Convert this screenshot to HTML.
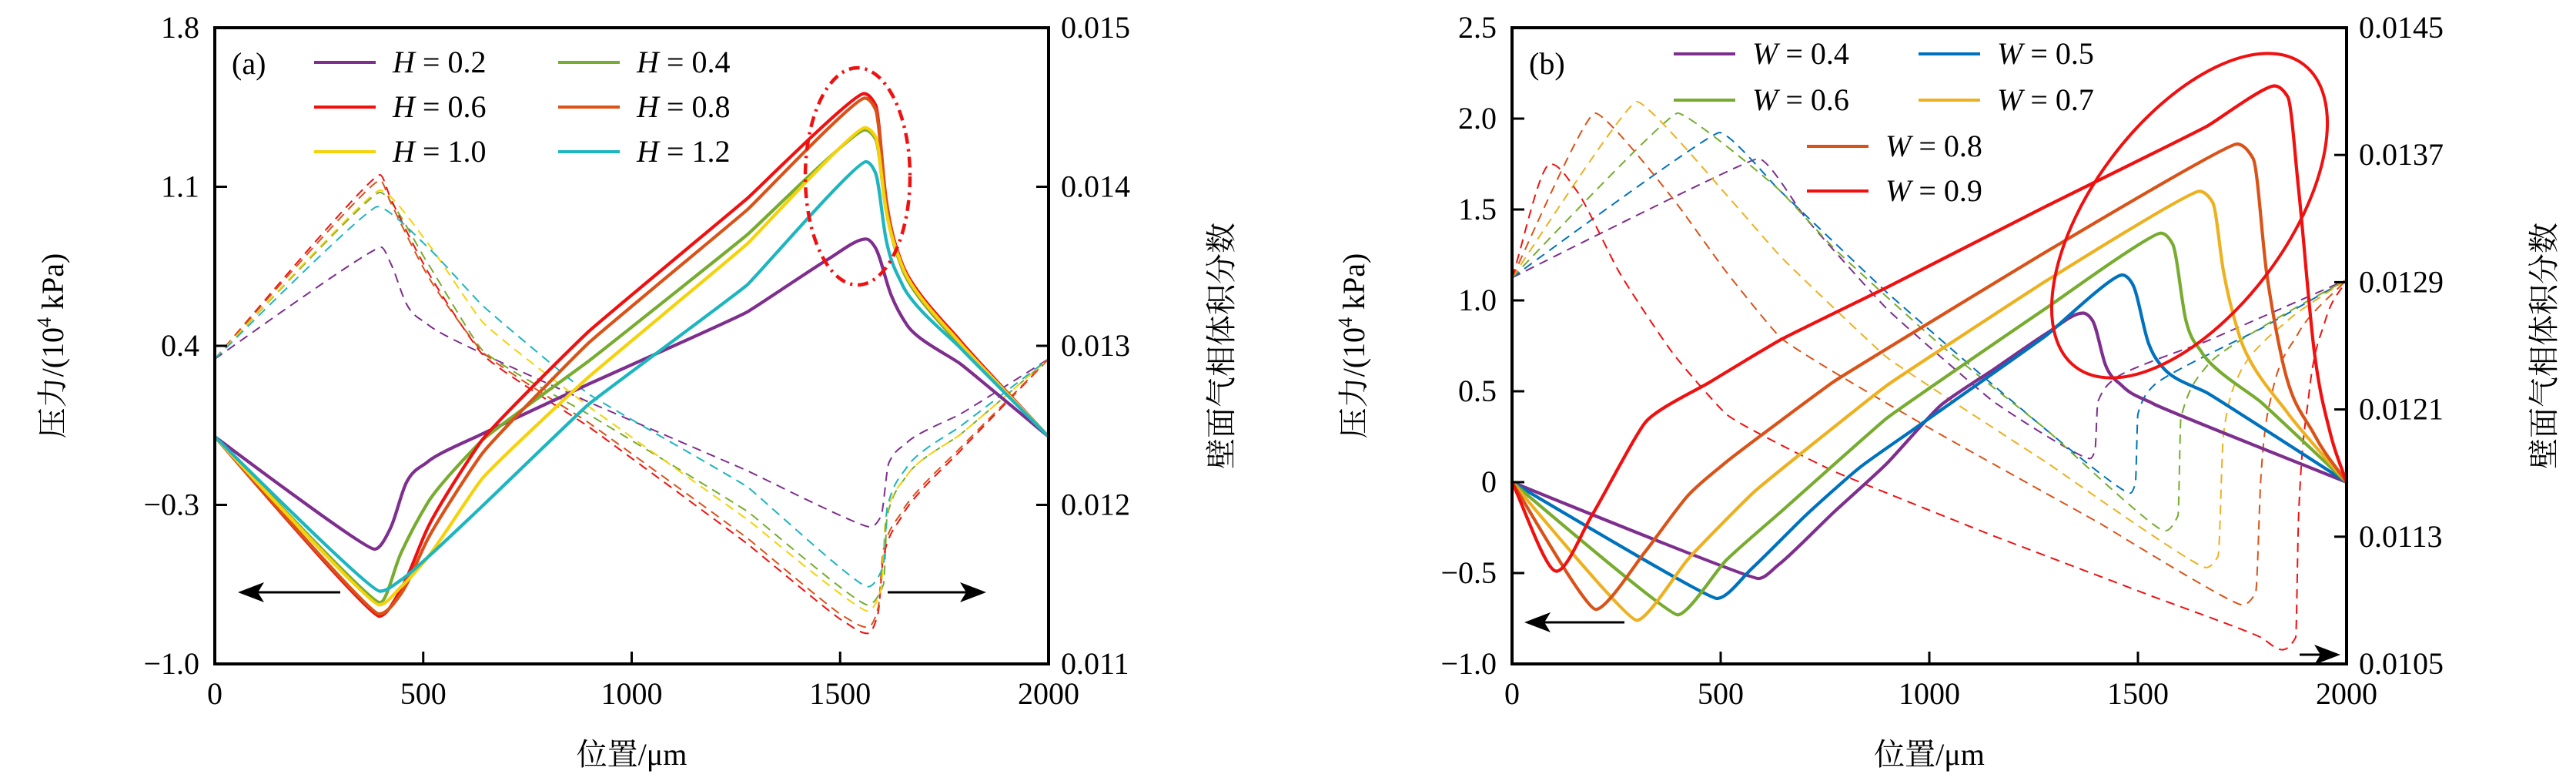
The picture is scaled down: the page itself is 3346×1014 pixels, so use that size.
<!DOCTYPE html>
<html><head><meta charset="utf-8"><style>
html,body{margin:0;padding:0;background:#fff;}
svg{display:block;}
text{font-family:"Liberation Serif","Noto Serif CJK SC",serif;}
</style></head><body>
<svg id="fig" width="3346" height="1014" viewBox="0 0 3346 1014" xmlns="http://www.w3.org/2000/svg"></svg>
<script>
// ---------- Panel (a) data ----------
const aXTicks=[0,500,1000,1500,2000];
const aYTicks=[-1.0,-0.3,0.4,1.1,1.8];
const aYTickLabels=["\u22121.0","\u22120.3","0.4","1.1","1.8"];
const aRTicks=[0.011,0.012,0.013,0.014,0.015];
const aRTickLabels=["0.011","0.012","0.013","0.014","0.015"];
const aNames=["H = 0.2","H = 0.4","H = 0.6","H = 0.8","H = 1.0","H = 1.2"];
const aColors=["#7E2F8E","#77AC30","#F01010","#D95319","#F5D20A","#1DB5C0"];
const aP02x=[0,383,422,460,511,639,895,1278,1470,1562,1585,1623,1661,1789,2000];
const aP02y=[0,-0.495,-0.40,-0.20,-0.11,0.01,0.23,0.55,0.78,0.87,0.83,0.62,0.49,0.32,0];
const aP04x=[0,396,447,511,639,895,1278,1559,1585,1610,1649,1789,2000];
const aP04y=[0,-0.73,-0.51,-0.29,-0.02,0.33,0.89,1.35,1.31,1.0,0.74,0.40,0];
const aP06x=[0,394,447,511,639,895,1278,1557,1585,1610,1649,1789,2000];
const aP06y=[0,-0.79,-0.67,-0.40,-0.02,0.46,1.05,1.51,1.46,1.05,0.76,0.42,0];
const aP08x=[0,394,447,511,639,895,1278,1559,1585,1610,1649,1789,2000];
const aP08y=[0,-0.78,-0.69,-0.45,-0.08,0.41,1.00,1.49,1.44,1.04,0.75,0.41,0];
const aP10x=[0,394,447,511,639,895,1278,1559,1585,1610,1649,1789,2000];
const aP10y=[0,-0.74,-0.66,-0.53,-0.19,0.26,0.85,1.36,1.32,1.0,0.75,0.41,0];
const aP12x=[0,396,447,511,639,895,1278,1562,1585,1610,1649,1789,2000];
const aP12y=[0,-0.68,-0.63,-0.53,-0.31,0.14,0.67,1.21,1.16,0.87,0.67,0.39,0];
const aV02x=[0,399,422,460,511,639,895,1278,1572,1598,1617,1661,1789,2000];
const aV02y=[0.012917,0.013620,0.013518,0.013262,0.013134,0.012955,0.012649,0.012214,0.011861,0.011930,0.012265,0.012393,0.012572,0.012917];
const aV04x=[0,396,511,639,895,1278,1566,1604,1613,1661,1789,2000];
const aV04y=[0.012917,0.013965,0.013518,0.012981,0.012572,0.011958,0.011371,0.011500,0.011933,0.012188,0.012444,0.012917];
const aV06x=[0,396,422,511,639,895,1278,1508,1566,1591,1604,1649,1789,2000];
const aV06y=[0.012917,0.014075,0.013926,0.013466,0.012955,0.012495,0.011754,0.011268,0.011192,0.011319,0.011677,0.011933,0.012342,0.012917];
const aV08x=[0,396,422,511,639,895,1278,1508,1566,1591,1604,1649,1789,2000];
const aV08y=[0.012917,0.014041,0.013900,0.013440,0.012970,0.012520,0.011790,0.011300,0.011230,0.011350,0.011720,0.011960,0.012360,0.012917];
const aV10x=[0,396,511,639,895,1278,1566,1598,1610,1661,1789,2000];
const aV10y=[0.012917,0.013978,0.013645,0.013160,0.012623,0.011907,0.011332,0.011470,0.011933,0.012188,0.012444,0.012917];
const aV12x=[0,390,511,639,895,1278,1566,1604,1613,1661,1789,2000];
const aV12y=[0.012917,0.013875,0.013620,0.013262,0.012700,0.012112,0.011485,0.011620,0.011984,0.012240,0.012495,0.012917];

// ---------- Panel (b) data ----------
const bXTicks=[0,500,1000,1500,2000];
const bYTicks=[-1.0,-0.5,0,0.5,1.0,1.5,2.0,2.5];
const bYTickLabels=["\u22121.0","\u22120.5","0","0.5","1.0","1.5","2.0","2.5"];
const bRTicks=[0.0105,0.0113,0.0121,0.0129,0.0137,0.0145];
const bRTickLabels=["0.0105","0.0113","0.0121","0.0129","0.0137","0.0145"];
const bNames=["W = 0.4","W = 0.5","W = 0.6","W = 0.7","W = 0.8","W = 0.9"];
const bColors=["#7E2F8E","#0072BD","#77AC30","#EDB120","#D95319","#F01010"];
const bP04x=[0,590,641,769,897,1026,1154,1282,1368,1391,1423,1462,1538,2000];
const bP04y=[0,-0.53,-0.45,-0.17,0.10,0.42,0.62,0.82,0.93,0.89,0.64,0.53,0.43,0];
const bP05x=[0,491,577,705,833,962,1282,1462,1487,1526,1564,1667,2000];
const bP05y=[0,-0.64,-0.47,-0.18,0.08,0.29,0.81,1.14,1.09,0.76,0.62,0.49,0];
const bP06x=[0,397,513,641,897,1282,1555,1583,1615,1654,1795,2000];
const bP06y=[0,-0.73,-0.43,-0.17,0.35,0.96,1.37,1.31,0.89,0.71,0.44,0];
const bP07x=[0,299,423,577,897,1282,1647,1679,1705,1744,1859,2000];
const bP07y=[0,-0.76,-0.42,-0.06,0.53,1.11,1.60,1.54,1.16,0.80,0.38,0];
const bP08x=[0,201,320,423,513,769,1282,1737,1776,1808,1846,1923,2000];
const bP08y=[0,-0.70,-0.38,-0.07,0.11,0.55,1.27,1.86,1.78,1.16,0.67,0.26,0];
const bP09x=[0,106,192,320,474,641,897,1282,1667,1827,1859,1885,1923,1962,2000];
const bP09y=[0,-0.49,-0.18,0.33,0.55,0.78,1.07,1.52,1.96,2.18,2.12,1.61,0.71,0.26,0];
const bV04x=[0,590,705,897,1154,1385,1397,1404,1449,1667,2000];
const bV04y=[0.012928,0.013677,0.013299,0.012736,0.012149,0.011791,0.011842,0.012149,0.012302,0.012532,0.012915];
const bV05x=[0,497,641,897,1154,1481,1494,1500,1538,1795,2000];
const bV05y=[0.012928,0.013841,0.013478,0.012839,0.012251,0.011573,0.011637,0.012072,0.012251,0.012609,0.012915];
const bV06x=[0,397,641,769,1026,1282,1564,1596,1603,1667,1859,2000];
const bV06y=[0.012928,0.013963,0.013478,0.013120,0.012507,0.011970,0.011336,0.011433,0.012047,0.012379,0.012711,0.012915];
const bV07x=[0,299,513,641,897,1282,1663,1692,1705,1744,1859,2000];
const bV07y=[0.012928,0.014035,0.013452,0.013069,0.012430,0.011765,0.011106,0.011178,0.011944,0.012328,0.012660,0.012915];
const bV08x=[0,199,385,513,641,1026,1410,1750,1782,1795,1821,1885,2000];
const bV08y=[0.012928,0.013963,0.013427,0.012967,0.012557,0.011944,0.011382,0.010871,0.010947,0.011689,0.012200,0.012583,0.012915];
const bV09x=[0,92,154,256,385,513,769,1154,1538,1795,1846,1878,1885,1910,1949,2000];
const bV09y=[0.012928,0.013644,0.013478,0.012967,0.012455,0.012072,0.011714,0.011305,0.010922,0.010666,0.010589,0.010666,0.011433,0.012200,0.012660,0.012915];

const NS="http://www.w3.org/2000/svg";
const svg=document.getElementById('fig');
function mk(tag,attrs,parent){const e=document.createElementNS(NS,tag);for(const k in attrs)e.setAttribute(k,attrs[k]);(parent||svg).appendChild(e);return e;}
// monotone cubic (x-increasing) path with short handles for sharp corners
function smoothPath(P){
  const n=P.length;
  const h=[],s=[];
  for(let i=0;i<n-1;i++){h[i]=P[i+1][0]-P[i][0];s[i]=(P[i+1][1]-P[i][1])/(h[i]||1e-6);}
  const m=[];
  m[0]=s[0];m[n-1]=s[n-2];
  for(let i=1;i<n-1;i++){
    const p=(s[i-1]*h[i]+s[i]*h[i-1])/(h[i-1]+h[i]);
    m[i]=(Math.sign(s[i-1])+Math.sign(s[i]))*Math.min(Math.abs(s[i-1]),Math.abs(s[i]),0.5*Math.abs(p));
  }
  let d='M'+P[0][0].toFixed(1)+','+P[0][1].toFixed(1);
  for(let i=0;i<n-1;i++){
    const dx=Math.min(h[i]/3,14);
    d+='C'+(P[i][0]+dx).toFixed(1)+','+(P[i][1]+m[i]*dx).toFixed(1)+' '+(P[i+1][0]-dx).toFixed(1)+','+(P[i+1][1]-m[i+1]*dx).toFixed(1)+' '+P[i+1][0].toFixed(1)+','+P[i+1][1].toFixed(1);
  }
  return d;
}

function panel(cfg){
  const g=mk('g',{});
  
  
  const L=cfg.L,R=cfg.R,T=cfg.T,B=cfg.B;
  const sx=v=>L+(v-0)/2000*(R-L);
  const sy=v=>B-(v-cfg.ymin)/(cfg.ymax-cfg.ymin)*(B-T);
  const sr=v=>B-(v-cfg.rmin)/(cfg.rmax-cfg.rmin)*(B-T);
  const pts=(xs,ys,f)=>xs.map((x,i)=>[sx(x),f(ys[i])]);
  cfg.dashed.forEach((s,i)=>{
    const p=mk('path',{d:smoothPath(pts(s[0],s[1],sr)),fill:'none',stroke:cfg.colors[i],'stroke-width':2,'stroke-dasharray':'12,8','stroke-linejoin':'round'},g);
    
    
  });
  cfg.solid.forEach((s,i)=>{
    const p=mk('path',{d:smoothPath(pts(s[0],s[1],sy)),fill:'none',stroke:cfg.colors[i],'stroke-width':4.2,'stroke-linejoin':'round','stroke-linecap':'round'},g);
    
    
  });
  const fr=mk('rect',{x:L,y:T,width:R-L,height:B-T,fill:'none',stroke:'#000','stroke-width':4},g);
  
  
  cfg.xt.forEach(v=>{
    const x=sx(v);
    const t=mk('line',{x1:x,y1:B,x2:x,y2:B-16,stroke:'#000','stroke-width':3},g);
    
    
    const l=mk('text',{x:x,y:B+52,'font-size':40,'text-anchor':'middle'},g);l.textContent=String(v);
    
    
  });
  cfg.yt.forEach((v,i)=>{
    const y=sy(v);
    const t=mk('line',{x1:L,y1:y,x2:L+16,y2:y,stroke:'#000','stroke-width':3},g);
    
    
    const l=mk('text',{x:L-20,y:y+13,'font-size':40,'text-anchor':'end'},g);l.textContent=cfg.ytl[i];
    
    
  });
  cfg.rt.forEach((v,i)=>{
    const y=sr(v);
    const t=mk('line',{x1:R,y1:y,x2:R-16,y2:y,stroke:'#000','stroke-width':3},g);
    
    
    const l=mk('text',{x:R+16,y:y+13,'font-size':40,'text-anchor':'start'},g);l.textContent=cfg.rtl[i];
    
    
  });
  const xl=mk('text',{x:(L+R)/2,y:993,'font-size':40,'text-anchor':'middle'},g);xl.textContent='位置/μm';
  
  
  const yl=mk('text',{x:0,y:0,'font-size':40,'text-anchor':'middle',transform:`translate(${cfg.ylx},${(T+B)/2}) rotate(-90)`},g);
  yl.innerHTML='压力/(10<tspan font-size="26" dy="-16">4</tspan><tspan dy="16"> kPa)</tspan>';
  
  
  const rl=mk('text',{x:0,y:0,'font-size':40,'text-anchor':'middle',transform:`translate(${cfg.rlx},${(T+B)/2}) rotate(-90)`},g);
  rl.textContent='壁面气相体积分数';
  
  
  const pl=mk('text',{x:L+22,y:96,'font-size':40},g);pl.textContent=cfg.label;
  
  
  cfg.legend.forEach((e,i)=>{
    const lg=mk('g',{},g);
    
    
    mk('line',{x1:e[0],y1:e[1],x2:e[0]+80,y2:e[1],stroke:cfg.colors[i],'stroke-width':4},lg);
    const t=mk('text',{x:e[0]+102,y:e[1]+13,'font-size':40},lg);
    const nm=cfg.names[i];
    t.innerHTML='<tspan font-style="italic">'+nm[0]+'</tspan> = '+nm.slice(4);
  });
  cfg.arrows.forEach(a=>{
    const ag=mk('g',{},g);
    
    
    const dir=Math.sign(a[2]-a[0]);
    mk('line',{x1:a[0],y1:a[1],x2:a[2]-dir*20,y2:a[1],stroke:'#000','stroke-width':3},ag);
    const tx=a[2],ty=a[1];
    mk('polygon',{points:`${tx},${ty} ${tx-dir*34},${ty-13} ${tx-dir*26},${ty} ${tx-dir*34},${ty+13}`,fill:'#000'},ag);
  });
}

panel({id:'a',label:'(a)',L:279,R:1362,T:36,B:862,ymin:-1.0,ymax:1.8,rmin:0.011,rmax:0.015,
  xt:aXTicks,yt:aYTicks,ytl:aYTickLabels,rt:aRTicks,rtl:aRTickLabels,colors:aColors,names:aNames,
  ylx:82,rlx:1600,
  solid:[[aP02x,aP02y],[aP04x,aP04y],[aP06x,aP06y],[aP08x,aP08y],[aP10x,aP10y],[aP12x,aP12y]],
  dashed:[[aV02x,aV02y],[aV04x,aV04y],[aV06x,aV06y],[aV08x,aV08y],[aV10x,aV10y],[aV12x,aV12y]],
  legend:[[408,81],[725,81],[408,139],[725,139],[408,197],[725,197]],
  arrows:[[442,769,309],[1153,769,1281]]});
panel({id:'b',label:'(b)',L:1964,R:3048,T:36,B:862,ymin:-1.0,ymax:2.5,rmin:0.0105,rmax:0.0145,
  xt:bXTicks,yt:bYTicks,ytl:bYTickLabels,rt:bRTicks,rtl:bRTickLabels,colors:bColors,names:bNames,
  ylx:1772,rlx:3318,
  solid:[[bP04x,bP04y],[bP05x,bP05y],[bP06x,bP06y],[bP07x,bP07y],[bP08x,bP08y],[bP09x,bP09y]],
  dashed:[[bV04x,bV04y],[bV05x,bV05y],[bV06x,bV06y],[bV07x,bV07y],[bV08x,bV08y],[bV09x,bV09y]],
  legend:[[2174,70],[2492,70],[2174,130],[2492,130],[2347,190],[2347,248]],
  arrows:[[2110,808,1980],[2987,850,3040]]});

const e1=mk('ellipse',{cx:1114,cy:229,rx:68,ry:141,fill:'none',stroke:'#F01010','stroke-width':4.5,'stroke-dasharray':'14,7,3,7'});


const e2=mk('ellipse',{cx:0,cy:0,rx:246,ry:126,fill:'none',stroke:'#F01010','stroke-width':4,transform:'translate(2844,280) rotate(-53)'});


</script>
</body></html>
